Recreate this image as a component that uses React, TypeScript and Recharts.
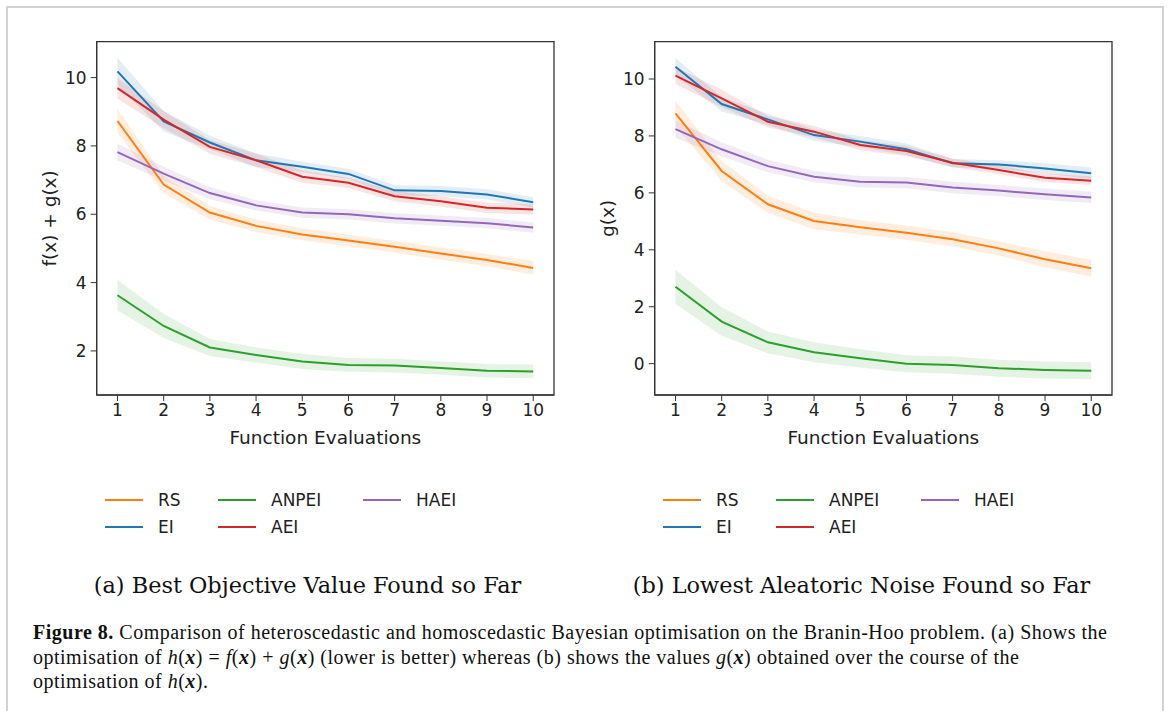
import React from "react";
import {
  ComposedChart,
  Line,
  Area,
  XAxis,
  YAxis,
  ReferenceArea,
  Label,
} from "recharts";

// x positions: function evaluations
const evals = [1, 2, 3, 4, 5, 6, 7, 8, 9, 10];

// (a) best objective value f(x) + g(x), mean and half-width of the band
const aRS = [8.73, 6.87, 6.05, 5.66, 5.41, 5.23, 5.05, 4.85, 4.66, 4.43];
const aRSErr = [0.35, 0.25, 0.2, 0.18, 0.17, 0.17, 0.17, 0.18, 0.18, 0.2];
const aEI = [10.18, 8.72, 8.1, 7.58, 7.39, 7.18, 6.7, 6.68, 6.58, 6.35];
const aEIErr = [0.4, 0.3, 0.2, 0.2, 0.15, 0.15, 0.15, 0.15, 0.15, 0.15];
const aANPEI = [3.63, 2.73, 2.1, 1.88, 1.69, 1.59, 1.57, 1.5, 1.42, 1.4];
const aANPEIErr = [0.45, 0.35, 0.25, 0.22, 0.22, 0.2, 0.2, 0.2, 0.2, 0.2];
const aAEI = [9.69, 8.77, 7.97, 7.58, 7.1, 6.92, 6.53, 6.38, 6.19, 6.14];
const aAEIErr = [0.3, 0.25, 0.2, 0.2, 0.18, 0.15, 0.15, 0.15, 0.15, 0.15];
const aHAEI = [7.82, 7.19, 6.62, 6.26, 6.05, 6.0, 5.88, 5.81, 5.74, 5.61];
const aHAEIErr = [0.25, 0.2, 0.18, 0.15, 0.15, 0.15, 0.15, 0.15, 0.15, 0.15];

// (b) lowest aleatoric noise g(x)
const bRS = [8.79, 6.77, 5.6, 5.01, 4.79, 4.6, 4.37, 4.05, 3.67, 3.35];
const bRSErr = [0.45, 0.35, 0.3, 0.3, 0.25, 0.25, 0.25, 0.25, 0.28, 0.3];
const bEI = [10.43, 9.12, 8.58, 8.03, 7.8, 7.53, 7.04, 7.0, 6.86, 6.69];
const bEIErr = [0.3, 0.25, 0.2, 0.2, 0.2, 0.2, 0.15, 0.15, 0.18, 0.2];
const bANPEI = [2.7, 1.48, 0.75, 0.4, 0.19, 0.0, -0.05, -0.16, -0.22, -0.25];
const bANPEIErr = [0.6, 0.5, 0.38, 0.35, 0.32, 0.3, 0.3, 0.3, 0.3, 0.3];
const bAEI = [10.12, 9.32, 8.5, 8.15, 7.68, 7.47, 7.06, 6.8, 6.53, 6.43];
const bAEIErr = [0.3, 0.3, 0.2, 0.2, 0.18, 0.18, 0.15, 0.15, 0.15, 0.15];
const bHAEI = [8.24, 7.53, 6.94, 6.57, 6.39, 6.36, 6.19, 6.08, 5.95, 5.84];
const bHAEIErr = [0.3, 0.25, 0.22, 0.2, 0.2, 0.2, 0.2, 0.2, 0.2, 0.2];

const aTicksY = [2, 4, 6, 8, 10];
const bTicksY = [0, 2, 4, 6, 8, 10];

const methods = ["RS", "EI", "ANPEI", "AEI", "HAEI"];
const colors: Record<string, string> = {
  RS: "#ff7f0e",
  EI: "#1f77b4",
  ANPEI: "#2ca02c",
  AEI: "#d62728",
  HAEI: "#9467bd",
};

const build = (
  means: Record<string, number[]>,
  errs: Record<string, number[]>
) =>
  evals.map((x, i) => {
    const row: Record<string, any> = { x };
    for (const m of methods) {
      row[m] = means[m][i];
      row[m + "_band"] = [means[m][i] - errs[m][i], means[m][i] + errs[m][i]];
    }
    return row;
  });

const dataA = build(
  { RS: aRS, EI: aEI, ANPEI: aANPEI, AEI: aAEI, HAEI: aHAEI },
  { RS: aRSErr, EI: aEIErr, ANPEI: aANPEIErr, AEI: aAEIErr, HAEI: aHAEIErr }
);
const dataB = build(
  { RS: bRS, EI: bEI, ANPEI: bANPEI, AEI: bAEI, HAEI: bHAEI },
  { RS: bRSErr, EI: bEIErr, ANPEI: bANPEIErr, AEI: bAEIErr, HAEI: bHAEIErr }
);

const tickFont = { fill: "#222", fontSize: 17, fontFamily: "DejaVu Sans" };
const titleFont = { fontSize: 18.5, fontFamily: "DejaVu Sans", fill: "#222" };
const X_DOMAIN: [number, number] = [0.55, 10.45];

type PanelProps = {
  data: Record<string, any>[];
  yDomain: [number, number];
  yTicks: number[];
  yLabel: string;
  left: number;
};

function Panel({ data, yDomain, yTicks, yLabel, left }: PanelProps) {
  return (
    <div style={{ position: "absolute", left, top: 0 }}>
      <ComposedChart
        width={600}
        height={460}
        data={data}
        margin={{ top: 41.7, right: 46, bottom: 15, left: 36.7 }}
      >
        <XAxis
          dataKey="x"
          type="number"
          domain={X_DOMAIN}
          ticks={evals}
          allowDataOverflow
          height={50}
          tickSize={6}
          tickMargin={3}
          stroke="#333"
          tick={tickFont}
        >
          <Label
            value="Function Evaluations"
            position="insideBottom"
            offset={1}
            style={titleFont}
          />
        </XAxis>
        <YAxis
          type="number"
          domain={yDomain}
          ticks={yTicks}
          allowDataOverflow
          width={60}
          tickSize={6}
          tickMargin={4}
          stroke="#333"
          tick={tickFont}
        >
          <Label
            value={yLabel}
            angle={-90}
            position="insideLeft"
            offset={13}
            style={{ ...titleFont, textAnchor: "middle" }}
          />
        </YAxis>
        {methods.map((m) => (
          <Area
            key={m + "_band"}
            dataKey={m + "_band"}
            type="linear"
            stroke="none"
            fill={colors[m]}
            fillOpacity={0.13}
            isAnimationActive={false}
            activeDot={false}
          />
        ))}
        {methods.map((m) => (
          <Line
            key={m}
            dataKey={m}
            type="linear"
            stroke={colors[m]}
            strokeWidth={2}
            dot={false}
            activeDot={false}
            isAnimationActive={false}
          />
        ))}
        <ReferenceArea
          x1={X_DOMAIN[0]}
          x2={X_DOMAIN[1]}
          y1={yDomain[0]}
          y2={yDomain[1]}
          fill="none"
          stroke="#333"
          strokeWidth={1.3}
          ifOverflow="visible"
        />
      </ComposedChart>
    </div>
  );
}

// legend slots, matplotlib ncol=3 column-major ordering
const legendSlots: Record<string, [number, number]> = {
  RS: [0, 0],
  EI: [0, 1],
  ANPEI: [1, 0],
  AEI: [1, 1],
  HAEI: [2, 0],
};
const colX = [105, 218, 363];
const rowY = [500, 527];

function Legend({ offset }: { offset: number }) {
  return (
    <>
      {methods.map((m) => {
        const [c, r] = legendSlots[m];
        return (
          <div
            key={m}
            style={{
              position: "absolute",
              left: colX[c] + offset,
              top: rowY[r] - 11,
              height: 22,
              display: "flex",
              alignItems: "center",
              fontFamily: "DejaVu Sans",
              fontSize: 17,
              color: "#222",
            }}
          >
            <div
              style={{
                width: 38,
                height: 2,
                background: colors[m],
                marginRight: 15,
              }}
            />
            <span>{m}</span>
          </div>
        );
      })}
    </>
  );
}

const X = () => (
  <b>
    <i>x</i>
  </b>
);

const subStyle: React.CSSProperties = {
  position: "absolute",
  width: 615,
  top: 570,
  textAlign: "center",
  fontFamily: "DejaVu Serif",
  fontSize: 22.4,
  color: "#111",
  lineHeight: "30px",
  whiteSpace: "nowrap",
};

export default function App() {
  return (
    <div
      style={{
        position: "absolute",
        left: 0,
        top: 0,
        width: 1168,
        height: 711,
        background: "#fff",
        overflow: "hidden",
      }}
    >
      <div
        style={{
          position: "absolute",
          left: 6,
          top: 6,
          width: 1154,
          height: 760,
          border: "2px solid #d2d2d2",
        }}
      />
      <Panel data={dataA} yDomain={[0.71, 11.05]} yTicks={aTicksY} yLabel="f(x) + g(x)" left={0} />
      <Panel data={dataB} yDomain={[-1.1, 11.31]} yTicks={bTicksY} yLabel="g(x)" left={558} />
      <Legend offset={0} />
      <Legend offset={558} />
      <div style={{ ...subStyle, left: 0 }}>(a) Best Objective Value Found so Far</div>
      <div style={{ ...subStyle, left: 554 }}>(b) Lowest Aleatoric Noise Found so Far</div>
      <div
        style={{
          position: "absolute",
          left: 33,
          top: 620,
          fontFamily: "Liberation Serif",
          fontSize: 20,
          letterSpacing: 0.5,
          lineHeight: "24.5px",
          color: "#111",
          whiteSpace: "nowrap",
        }}
      >
        <b>Figure 8.</b> Comparison of heteroscedastic and homoscedastic Bayesian optimisation on the
        Branin-Hoo problem. (a) Shows the
        <br />
        optimisation of <i>h</i>(<X />) = <i>f</i>(<X />) + <i>g</i>(<X />) (lower is better) whereas
        (b) shows the values <i>g</i>(<X />) obtained over the course of the
        <br />
        optimisation of <i>h</i>(<X />).
      </div>
    </div>
  );
}
